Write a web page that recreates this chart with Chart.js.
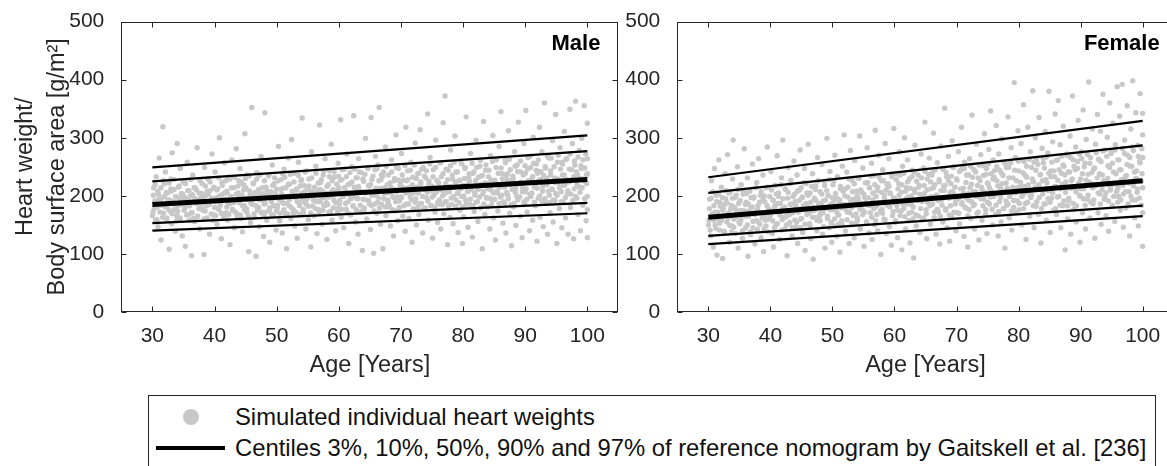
<!DOCTYPE html>
<html>
<head>
<meta charset="utf-8">
<script src="https://cdn.jsdelivr.net/npm/chart.js@4.4.1/dist/chart.umd.min.js"></script>
<style>
  body { margin: 0; background: #fff; width: 1167px; height: 466px; overflow: hidden; position: relative; font-family: "Liberation Sans", Arial, sans-serif; color: #262626; }
  canvas { position: absolute; top: 0; }
  #maleChart { left: 0; }
  #femaleChart { left: 600px; }
  .legend-box { position: absolute; left: 148px; top: 395px; width: 1008px; height: 100px; border: 1px solid #262626; box-sizing: border-box; }
  .legend-dot { position: absolute; left: 183px; top: 409px; width: 16px; height: 16px; border-radius: 50%; background: #c8c8c8; }
  .legend-line { position: absolute; left: 156px; top: 446px; width: 69px; height: 4px; background: #000; }
  .legend-text { position: absolute; left: 235px; font-size: 23.8px; line-height: 28px; white-space: nowrap; color: #111; }
</style>
</head>
<body>
<canvas id="maleChart" width="640" height="390"></canvas>
<canvas id="femaleChart" width="600" height="390"></canvas>
<div class="legend-box"></div>
<div class="legend-dot"></div>
<div class="legend-line"></div>
<div class="legend-text" style="top:403px">Simulated individual heart weights</div>
<div class="legend-text" style="top:434px">Centiles 3%, 10%, 50%, 90% and 97% of reference nomogram by Gaitskell et al. [236]</div>
<script>
const xTicks = [30, 40, 50, 60, 70, 80, 90, 100];
const centileAges = [30, 100];

// centile lines read at age 30 and age 100
const maleP3 = [140, 170];
const maleP10 = [153, 188];
const maleP50 = [185, 228];
const maleP90 = [225, 277];
const maleP97 = [249, 304];

const femaleP3 = [117, 165];
const femaleP10 = [131, 183];
const femaleP50 = [163, 226];
const femaleP90 = [205, 287];
const femaleP97 = [232, 329];

// simulated individuals [age, heart weight / BSA], whole spread
const malePoints = [
  [30.1,172],[30.2,214],[30.4,191],[30.5,158],[30.6,233],[30.8,181],[30.9,147],[31.0,203],[31.1,265],[31.3,188],[31.4,124],[31.5,196],[31.7,319],[31.8,170],[31.9,221],
  [32.0,184],[32.1,241],[32.3,162],[32.4,205],[32.6,177],[32.7,108],[32.8,193],[33.0,229],[33.1,152],[33.2,274],[33.4,186],[33.5,211],[33.7,139],[33.8,198],[33.9,166],
  [34.0,290],[34.1,182],[34.3,217],[34.4,160],[34.5,247],[34.7,191],[34.8,131],[34.9,203],[35.1,175],[35.2,226],[35.3,113],[35.5,194],[35.6,258],[35.8,168],[35.9,209],
  [36.0,183],[36.1,200],[36.3,97],[36.4,171],[36.5,236],[36.7,192],[36.8,156],[36.9,214],[37.1,187],[37.2,283],[37.3,165],[37.5,205],[37.6,143],[37.8,196],[37.9,178],
  [38.0,221],[38.1,188],[38.3,99],[38.4,249],[38.5,174],[38.7,201],[38.8,162],[38.9,230],[39.1,185],[39.2,134],[39.3,209],[39.5,193],[39.6,272],[39.8,168],[39.9,215],
  [40.0,180],[40.1,241],[40.3,197],[40.4,151],[40.5,212],[40.7,176],[40.8,300],[40.9,189],[41.1,126],[41.2,223],[41.3,203],[41.5,165],[41.6,257],[41.8,194],[41.9,171],
  [42.0,208],[42.1,158],[42.3,232],[42.4,186],[42.5,116],[42.7,199],[42.8,262],[42.9,177],[43.1,214],[43.2,145],[43.3,192],[43.5,281],[43.6,169],[43.8,205],[43.9,226],
  [44.0,188],[44.1,247],[44.3,161],[44.4,201],[44.5,138],[44.7,219],[44.8,183],[44.9,307],[45.1,196],[45.2,172],[45.3,236],[45.5,104],[45.6,209],[45.8,154],[45.9,191],
  [46.0,352],[46.1,185],[46.3,222],[46.4,163],[46.5,199],[46.7,96],[46.8,240],[46.9,178],[47.1,211],[47.2,147],[47.3,193],[47.5,268],[47.6,172],[47.8,204],[47.9,130],
  [48.0,186],[48.1,343],[48.3,215],[48.4,158],[48.5,201],[48.7,234],[48.8,175],[48.9,120],[49.1,207],[49.2,190],[49.3,253],[49.5,166],[49.6,221],[49.8,197],[49.9,141],
  [50.0,212],[50.1,179],[50.3,285],[50.4,194],[50.5,157],[50.7,228],[50.8,203],[50.9,136],[51.1,187],[51.2,246],[51.3,170],[51.5,214],[51.6,109],[51.8,199],[51.9,265],
  [52.0,183],[52.1,220],[52.3,161],[52.4,297],[52.5,205],[52.7,176],[52.8,239],[52.9,148],[53.1,196],[53.2,212],[53.3,127],[53.5,258],[53.6,188],[53.8,168],[53.9,226],
  [54.0,204],[54.1,334],[54.3,171],[54.4,218],[54.5,189],[54.7,143],[54.8,243],[54.9,195],[55.1,159],[55.2,229],[55.3,209],[55.5,112],[55.6,276],[55.8,182],[55.9,200],
  [56.0,166],[56.1,215],[56.3,251],[56.4,190],[56.5,135],[56.7,208],[56.8,176],[56.9,322],[57.1,223],[57.2,197],[57.3,151],[57.5,236],[57.6,183],[57.8,264],[57.9,205],
  [58.0,188],[58.1,125],[58.3,219],[58.4,172],[58.5,243],[58.7,201],[58.8,289],[58.9,158],[59.1,211],[59.2,193],[59.3,232],[59.5,140],[59.6,207],[59.8,178],[59.9,256],
  [60.0,214],[60.1,186],[60.3,331],[60.4,163],[60.5,228],[60.7,199],[60.8,145],[60.9,246],[61.1,208],[61.2,177],[61.3,272],[61.5,190],[61.6,118],[61.8,221],[61.9,167],
  [62.0,203],[62.1,250],[62.3,183],[62.4,338],[62.5,215],[62.7,155],[62.8,231],[62.9,196],[63.1,134],[63.2,264],[63.3,210],[63.5,172],[63.6,240],[63.8,106],[63.9,194],
  [64.0,225],[64.1,179],[64.3,299],[64.4,206],[64.5,160],[64.7,247],[64.8,192],[64.9,217],[65.1,142],[65.2,335],[65.3,201],[65.5,234],[65.6,101],[65.8,186],[65.9,268],
  [66.0,213],[66.1,170],[66.3,253],[66.4,197],[66.5,352],[66.7,151],[66.8,228],[66.9,185],[67.1,109],[67.2,241],[67.3,204],[67.5,284],[67.6,166],[67.8,219],[67.9,193],
  [68.0,236],[68.1,181],[68.3,148],[68.4,215],[68.5,262],[68.7,199],[68.8,131],[68.9,226],[69.1,174],[69.2,305],[69.3,208],[69.5,157],[69.6,247],[69.8,191],[69.9,220],
  [70.0,198],[70.1,273],[70.3,165],[70.4,227],[70.5,209],[70.7,139],[70.8,318],[70.9,186],[71.1,243],[71.2,214],[71.3,161],[71.5,199],[71.6,258],[71.8,120],[71.9,232],
  [72.0,176],[72.1,214],[72.3,291],[72.4,195],[72.5,150],[72.7,238],[72.8,205],[72.9,168],[73.1,314],[73.2,224],[73.3,187],[73.5,136],[73.6,249],[73.8,211],[73.9,179],
  [74.0,231],[74.1,197],[74.3,341],[74.4,158],[74.5,219],[74.7,266],[74.8,183],[74.9,209],[75.1,127],[75.2,245],[75.3,201],[75.5,172],[75.6,296],[75.8,226],[75.9,154],
  [76.0,212],[76.1,186],[76.3,257],[76.4,143],[76.5,233],[76.7,200],[76.8,326],[76.9,169],[77.1,372],[77.2,221],[77.3,190],[77.5,116],[77.6,244],[77.8,207],[77.9,163],
  [78.0,279],[78.1,196],[78.3,229],[78.4,152],[78.5,214],[78.7,303],[78.8,182],[78.9,241],[79.1,205],[79.2,137],[79.3,226],[79.5,175],[79.6,260],[79.8,199],[79.9,118],
  [80.0,218],[80.1,164],[80.3,247],[80.4,193],[80.5,336],[80.7,208],[80.8,146],[80.9,232],[81.1,185],[81.2,273],[81.3,211],[81.5,129],[81.6,239],[81.8,173],[81.9,201],
  [82.0,226],[82.1,296],[82.3,190],[82.4,156],[82.5,212],[82.7,251],[82.8,179],[82.9,234],[83.1,109],[83.2,203],[83.3,328],[83.5,168],[83.6,244],[83.8,197],[83.9,220],
  [84.0,181],[84.1,233],[84.3,143],[84.4,269],[84.5,210],[84.7,192],[84.8,304],[84.9,162],[85.1,227],[85.2,124],[85.3,249],[85.5,205],[85.6,174],[85.8,285],[85.9,215],
  [86.0,198],[86.1,345],[86.3,238],[86.4,153],[86.5,219],[86.7,187],[86.8,262],[86.9,136],[87.1,228],[87.2,201],[87.3,312],[87.5,170],[87.6,245],[87.8,114],[87.9,211],
  [88.0,234],[88.1,181],[88.3,276],[88.4,206],[88.5,149],[88.7,253],[88.8,193],[88.9,327],[89.1,222],[89.2,165],[89.3,241],[89.5,128],[89.6,214],[89.8,290],[89.9,187],
  [90.0,207],[90.1,347],[90.3,172],[90.4,246],[90.5,226],[90.7,140],[90.8,268],[90.9,199],[91.1,231],[91.2,158],[91.3,301],[91.5,215],[91.6,183],[91.8,255],[91.9,122],
  [92.0,239],[92.1,196],[92.3,318],[92.4,163],[92.5,228],[92.7,276],[92.8,208],[92.9,147],[93.1,360],[93.2,250],[93.3,188],[93.5,219],[93.6,134],[93.8,265],[93.9,201],
  [94.0,171],[94.1,243],[94.3,212],[94.4,295],[94.5,155],[94.7,231],[94.8,192],[94.9,340],[95.1,118],[95.2,258],[95.3,222],[95.5,178],[95.6,283],[95.8,207],[95.9,145],
  [96.0,236],[96.1,189],[96.3,311],[96.4,219],[96.5,162],[96.7,264],[96.8,203],[96.9,134],[97.1,246],[97.2,349],[97.3,180],[97.5,227],[97.6,290],[97.8,126],[97.9,212],
  [98.0,253],[98.1,363],[98.3,196],[98.4,237],[98.5,168],[98.7,278],[98.8,215],[98.9,140],[99.1,299],[99.2,229],[99.3,184],[99.5,355],[99.6,248],[99.8,157],[99.9,221],
  [100.0,264],[100.0,199],[100.0,238],[100.0,128],[100.0,325],[100.0,176]
];

// extra individuals inside the dense central band
const maleCore = [
  [30.03,166],[30.17,201],[30.29,178],[30.46,219],[30.58,190],[30.74,159],[30.88,208],
  [31.08,195],[31.21,172],[31.37,214],[31.49,184],[31.66,163],[31.79,226],[31.94,199],
  [32.12,181],[32.25,206],[32.33,160],[32.52,193],[32.69,222],[32.83,174],[32.97,212],
  [33.03,208],[33.17,169],[33.29,190],[33.46,228],[33.58,176],[33.74,199],[33.88,157],
  [34.08,173],[34.21,215],[34.37,196],[34.49,162],[34.66,204],[34.79,185],[34.94,224],
  [35.12,198],[35.25,180],[35.33,221],[35.52,167],[35.69,209],[35.83,191],[35.97,158],
  [36.03,186],[36.17,228],[36.29,171],[36.46,202],[36.58,161],[36.74,214],[36.88,195],
  [37.08,211],[37.21,164],[37.37,193],[37.49,178],[37.66,226],[37.79,187],[37.94,204],
  [38.12,175],[38.25,199],[38.33,160],[38.52,217],[38.69,183],[38.83,208],[38.97,229],
  [39.03,203],[39.17,186],[39.29,224],[39.46,169],[39.58,196],[39.74,158],[39.88,213],
  [40.08,190],[40.21,166],[40.37,210],[40.49,179],[40.66,231],[40.79,200],[40.94,184],
  [41.12,170],[41.25,218],[41.33,194],[41.52,162],[41.69,206],[41.83,226],[41.97,181],
  [42.03,205],[42.17,185],[42.29,168],[42.46,229],[42.58,196],[42.74,214],[42.88,175],
  [43.08,188],[43.21,232],[43.37,172],[43.49,203],[43.66,164],[43.79,217],[43.94,197],
  [44.12,167],[44.25,199],[44.33,223],[44.52,183],[44.69,210],[44.83,176],[44.97,230],
  [45.03,214],[45.17,178],[45.29,195],[45.46,165],[45.58,234],[45.74,202],[45.88,187],
  [46.08,193],[46.21,221],[46.37,169],[46.49,206],[46.66,183],[46.79,229],[46.94,175],
  [47.12,180],[47.25,203],[47.33,236],[47.52,171],[47.69,214],[47.83,192],[47.97,165],
  [48.03,226],[48.17,187],[48.29,172],[48.46,209],[48.58,197],[48.74,236],[48.88,179],
  [49.08,199],[49.21,168],[49.37,218],[49.49,183],[49.66,231],[49.79,205],[49.94,174],
  [50.12,184],[50.25,226],[50.33,195],[50.52,170],[50.69,211],[50.83,190],[50.97,238],
  [51.03,213],[51.17,176],[51.29,232],[51.46,199],[51.58,187],[51.74,169],[51.88,220],
  [52.08,193],[52.21,237],[52.37,180],[52.49,208],[52.66,171],[52.79,224],[52.94,201],
  [53.12,172],[53.25,210],[53.33,190],[53.52,235],[53.69,183],[53.83,217],[53.97,168],
  [54.03,228],[54.17,195],[54.29,176],[54.46,207],[54.58,241],[54.74,186],[54.88,215],
  [55.08,182],[55.21,217],[55.37,199],[55.49,170],[55.66,231],[55.79,208],[55.94,192],
  [56.12,204],[56.25,178],[56.33,239],[56.52,191],[56.69,222],[56.83,172],[56.97,211],
  [57.03,190],[57.17,228],[57.29,209],[57.46,175],[57.58,243],[57.74,197],[57.88,184],
  [58.08,216],[58.21,185],[58.37,198],[58.49,233],[58.66,173],[58.79,207],[58.94,226],
  [59.12,179],[59.25,241],[59.33,203],[59.52,188],[59.69,220],[59.83,172],[59.97,234],
  [60.03,208],[60.17,192],[60.29,227],[60.46,177],[60.58,245],[60.74,199],[60.88,214],
  [61.08,187],[61.21,233],[61.37,171],[61.49,219],[61.66,202],[61.79,240],[61.94,195],
  [62.12,224],[62.25,199],[62.33,182],[62.52,246],[62.69,211],[62.83,176],[62.97,231],
  [63.03,195],[63.17,216],[63.29,241],[63.46,184],[63.58,207],[63.74,174],[63.88,229],
  [64.08,176],[64.21,237],[64.37,205],[64.49,193],[64.66,248],[64.79,218],[64.94,186],
  [65.12,219],[65.25,183],[65.33,228],[65.52,202],[65.69,174],[65.83,245],[65.97,210],
  [66.03,200],[66.17,247],[66.29,189],[66.46,226],[66.58,179],[66.74,213],[66.88,236],
  [67.08,234],[67.21,195],[67.37,214],[67.49,181],[67.66,251],[67.79,205],[67.94,188],
  [68.12,184],[68.25,222],[68.33,206],[68.52,241],[68.69,176],[68.83,197],[68.97,230],
  [69.03,211],[69.17,190],[69.29,249],[69.46,198],[69.58,227],[69.74,180],[69.88,218],
  [70.08,197],[70.21,236],[70.37,214],[70.49,183],[70.66,252],[70.79,205],[70.94,226],
  [71.12,228],[71.25,186],[71.33,207],[71.52,244],[71.69,194],[71.83,219],[71.97,178],
  [72.03,205],[72.17,253],[72.29,189],[72.46,230],[72.58,215],[72.74,181],[72.88,239],
  [73.08,187],[73.21,221],[73.37,246],[73.49,199],[73.66,178],[73.79,234],[73.94,212],
  [74.12,243],[74.25,206],[74.33,191],[74.52,225],[74.69,255],[74.83,184],[74.97,217],
  [75.03,198],[75.17,233],[75.29,214],[75.46,180],[75.58,249],[75.74,207],[75.88,188],
  [76.08,222],[76.21,193],[76.37,257],[76.49,210],[76.66,185],[76.79,238],[76.94,203],
  [77.12,190],[77.25,246],[77.33,206],[77.52,228],[77.69,182],[77.83,216],[77.97,252],
  [78.03,214],[78.17,185],[78.29,236],[78.46,199],[78.58,258],[78.74,224],[78.88,193],
  [79.08,241],[79.21,204],[79.37,188],[79.49,227],[79.66,212],[79.79,255],[79.94,181],
  [80.12,200],[80.25,230],[80.33,249],[80.52,186],[80.69,219],[80.83,208],[80.97,238],
  [81.03,226],[81.17,194],[81.29,215],[81.46,256],[81.58,183],[81.74,241],[81.88,205],
  [82.08,189],[82.21,249],[82.37,211],[82.49,232],[82.66,198],[82.79,261],[82.94,220],
  [83.12,235],[83.25,207],[83.33,186],[83.52,222],[83.69,253],[83.83,196],[83.97,214],
  [84.03,212],[84.17,244],[84.29,196],[84.46,228],[84.58,184],[84.74,259],[84.88,205],
  [85.08,194],[85.21,223],[85.37,262],[85.49,208],[85.66,239],[85.79,187],[85.94,217],
  [86.12,248],[86.25,201],[86.33,229],[86.52,190],[86.69,215],[86.83,257],[86.97,236],
  [87.03,206],[87.17,238],[87.29,195],[87.46,263],[87.58,219],[87.74,185],[87.88,227],
  [88.08,229],[88.21,187],[88.37,251],[88.49,213],[88.66,199],[88.79,242],[88.94,221],
  [89.12,198],[89.25,260],[89.33,224],[89.52,207],[89.69,236],[89.83,190],[89.97,252],
  [90.03,239],[90.17,212],[90.29,194],[90.46,266],[90.58,226],[90.74,203],[90.88,249],
  [91.08,205],[91.21,233],[91.37,256],[91.49,189],[91.66,220],[91.79,244],[91.94,213],
  [92.12,262],[92.25,227],[92.33,200],[92.52,242],[92.69,191],[92.83,216],[92.97,235],
  [93.03,219],[93.17,195],[93.29,248],[93.46,230],[93.58,268],[93.74,208],[93.88,188],
  [94.08,236],[94.21,265],[94.37,211],[94.49,193],[94.66,250],[94.79,223],[94.94,204],
  [95.12,201],[95.25,229],[95.33,270],[95.52,214],[95.69,246],[95.83,190],[95.97,258],
  [96.03,255],[96.17,218],[96.29,236],[96.46,197],[96.58,263],[96.74,228],[96.88,209],
  [97.08,224],[97.21,272],[97.37,203],[97.49,245],[97.66,192],[97.79,233],[97.94,260],
  [98.12,199],[98.25,241],[98.33,219],[98.52,267],[98.69,230],[98.83,206],[98.97,252],
  [99.03,247],[99.17,214],[99.29,262],[99.46,226],[99.58,195],[99.74,272],[99.88,236]
];

const femalePoints = [
  [30.1,158],[30.2,194],[30.4,131],[30.5,226],[30.6,169],[30.8,112],[30.9,183],[31.0,247],[31.1,150],[31.3,201],[31.4,98],[31.5,172],[31.7,262],[31.8,141],[31.9,188],
  [32.0,163],[32.1,215],[32.3,92],[32.4,178],[32.6,138],[32.7,238],[32.8,195],[33.0,155],[33.1,271],[33.2,170],[33.4,120],[33.5,206],[33.7,184],[33.8,148],[33.9,229],
  [34.0,296],[34.1,160],[34.3,197],[34.4,135],[34.5,176],[34.7,250],[34.8,110],[34.9,187],[35.1,152],[35.3,219],[35.4,167],[35.5,127],[35.6,203],[35.8,281],[35.9,174],
  [36.0,145],[36.1,189],[36.3,231],[36.4,96],[36.5,165],[36.7,208],[36.8,133],[36.9,179],[37.1,255],[37.2,156],[37.3,196],[37.5,117],[37.6,172],[37.8,223],[37.9,142],
  [38.0,183],[38.1,264],[38.3,151],[38.4,201],[38.5,128],[38.7,170],[38.8,236],[38.9,104],[39.1,190],[39.2,158],[39.3,214],[39.5,284],[39.6,138],[39.8,177],[39.9,199],
  [40.0,166],[40.1,242],[40.3,135],[40.4,193],[40.5,112],[40.7,181],[40.8,218],[40.9,150],[41.1,269],[41.2,172],[41.3,205],[41.5,125],[41.6,187],[41.8,231],[41.9,159],
  [42.0,296],[42.1,178],[42.3,143],[42.4,212],[42.5,164],[42.7,97],[42.8,196],[42.9,249],[43.1,154],[43.2,185],[43.3,227],[43.5,131],[43.6,171],[43.8,260],[43.9,203],
  [44.0,190],[44.1,147],[44.3,236],[44.4,118],[44.5,174],[44.7,210],[44.8,279],[44.9,160],[45.1,198],[45.2,137],[45.3,183],[45.5,247],[45.6,106],[45.8,221],[45.9,168],
  [46.0,181],[46.1,289],[46.3,152],[46.4,205],[46.5,126],[46.7,174],[46.8,238],[46.9,91],[47.1,196],[47.2,163],[47.3,217],[47.5,140],[47.6,266],[47.8,187],[47.9,157],
  [48.0,207],[48.1,170],[48.3,254],[48.4,134],[48.5,191],[48.7,225],[48.8,110],[48.9,178],[49.1,299],[49.2,161],[49.3,201],[49.5,145],[49.6,242],[49.8,186],[49.9,120],
  [50.0,176],[50.1,219],[50.3,148],[50.4,270],[50.5,195],[50.7,130],[50.8,233],[50.9,167],[51.1,188],[51.2,103],[51.3,212],[51.5,157],[51.6,251],[51.8,182],[51.9,305],
  [52.0,200],[52.1,139],[52.3,241],[52.4,172],[52.5,215],[52.7,118],[52.8,186],[52.9,278],[53.1,153],[53.2,226],[53.3,194],[53.5,128],[53.6,261],[53.8,169],[53.9,208],
  [54.0,162],[54.1,231],[54.3,190],[54.4,303],[54.5,143],[54.7,206],[54.8,176],[54.9,248],[55.1,113],[55.2,197],[55.3,222],[55.5,155],[55.6,283],[55.8,184],[55.9,136],
  [56.0,214],[56.1,171],[56.3,256],[56.4,125],[56.5,193],[56.7,235],[56.8,150],[56.9,313],[57.1,182],[57.2,209],[57.3,140],[57.5,270],[57.6,188],[57.8,99],[57.9,226],
  [58.0,177],[58.1,245],[58.3,160],[58.4,201],[58.5,290],[58.7,135],[58.8,219],[58.9,188],[59.1,264],[59.2,147],[59.3,205],[59.5,115],[59.6,233],[59.8,173],[59.9,316],
  [60.0,195],[60.1,154],[60.3,238],[60.4,183],[60.5,128],[60.7,221],[60.8,276],[60.9,166],[61.1,206],[61.2,107],[61.3,251],[61.5,178],[61.6,300],[61.8,143],[61.9,214],
  [62.0,186],[62.1,262],[62.3,157],[62.4,229],[62.5,119],[62.7,200],[62.8,172],[62.9,244],[63.1,93],[63.2,211],[63.3,287],[63.5,148],[63.6,193],[63.8,236],[63.9,165],
  [64.0,218],[64.1,137],[64.3,272],[64.4,190],[64.5,159],[64.7,248],[64.8,204],[64.9,327],[65.1,176],[65.2,126],[65.3,229],[65.5,197],[65.6,265],[65.8,151],[65.9,212],
  [66.0,185],[66.1,240],[66.3,308],[66.4,163],[66.5,219],[66.7,134],[66.8,201],[66.9,257],[67.1,172],[67.2,224],[67.3,117],[67.5,286],[67.6,193],[67.8,155],[67.9,246],
  [68.0,209],[68.1,351],[68.3,178],[68.4,233],[68.5,145],[68.7,268],[68.8,196],[68.9,122],[69.1,221],[69.2,164],[69.3,295],[69.5,205],[69.6,250],[69.8,186],[69.9,140],
  [70.0,229],[70.1,171],[70.3,276],[70.4,197],[70.5,152],[70.7,244],[70.8,318],[70.9,188],[71.1,213],[71.2,130],[71.3,258],[71.5,179],[71.6,236],[71.8,112],[71.9,204],
  [72.0,192],[72.1,264],[72.3,161],[72.4,220],[72.5,339],[72.7,183],[72.8,245],[72.9,143],[73.1,207],[73.2,289],[73.3,170],[73.5,231],[73.6,124],[73.8,198],[73.9,271],
  [74.0,215],[74.1,158],[74.3,252],[74.4,194],[74.5,307],[74.7,176],[74.8,237],[74.9,135],[75.1,221],[75.2,280],[75.3,186],[75.5,346],[75.6,209],[75.8,150],[75.9,262],
  [76.0,199],[76.1,243],[76.3,168],[76.4,321],[76.5,226],[76.7,131],[76.8,272],[76.9,190],[77.1,213],[77.2,155],[77.3,298],[77.5,235],[77.6,178],[77.8,110],[77.9,255],
  [78.0,222],[78.1,184],[78.3,336],[78.4,249],[78.5,162],[78.7,204],[78.8,283],[78.9,141],[79.1,231],[79.2,192],[79.3,395],[79.5,266],[79.6,172],[79.8,214],[79.9,312],
  [80.0,243],[80.1,176],[80.3,216],[80.4,290],[80.5,150],[80.7,201],[80.8,357],[80.9,259],[81.1,187],[81.2,125],[81.3,232],[81.5,318],[81.6,209],[81.8,165],[81.9,276],
  [82.0,197],[82.1,249],[82.3,381],[82.4,224],[82.5,145],[82.7,300],[82.8,182],[82.9,262],[83.1,212],[83.2,168],[83.3,335],[83.5,236],[83.6,119],[83.8,282],[83.9,203],
  [84.0,257],[84.1,186],[84.3,311],[84.4,228],[84.5,158],[84.7,274],[84.8,209],[84.9,380],[85.1,137],[85.2,243],[85.3,196],[85.5,293],[85.6,175],[85.8,233],[85.9,341],
  [86.0,216],[86.1,168],[86.3,262],[86.4,364],[86.5,199],[86.7,288],[86.8,145],[86.9,239],[87.1,183],[87.2,320],[87.3,251],[87.5,107],[87.6,224],[87.8,272],[87.9,160],
  [88.0,241],[88.1,192],[88.3,303],[88.4,134],[88.5,226],[88.7,372],[88.8,262],[88.9,177],[89.1,213],[89.2,284],[89.3,155],[89.5,247],[89.6,330],[89.8,201],[89.9,120],
  [90.0,229],[90.1,276],[90.3,171],[90.4,348],[90.5,212],[90.7,256],[90.8,143],[90.9,297],[91.1,194],[91.2,237],[91.3,396],[91.5,162],[91.6,266],[91.8,220],[91.9,315],
  [92.0,186],[92.1,246],[92.3,127],[92.4,289],[92.5,218],[92.7,340],[92.8,171],[92.9,263],[93.1,203],[93.2,311],[93.3,151],[93.5,236],[93.6,375],[93.8,194],[93.9,279],
  [94.0,225],[94.1,166],[94.3,301],[94.4,252],[94.5,139],[94.7,360],[94.8,210],[94.9,273],[95.1,184],[95.2,325],[95.3,241],[95.5,156],[95.6,288],[95.8,207],[95.9,388],
  [96.0,262],[96.1,199],[96.3,337],[96.4,175],[96.5,245],[96.7,392],[96.8,218],[96.9,146],[97.1,296],[97.2,233],[97.3,179],[97.5,355],[97.6,270],[97.8,207],[97.9,131],
  [98.0,251],[98.1,315],[98.3,193],[98.4,398],[98.5,278],[98.7,162],[98.8,229],[98.9,343],[99.1,206],[99.2,287],[99.3,148],[99.5,259],[99.6,376],[99.8,184],[99.9,238],
  [100.0,305],[100.0,214],[100.0,113],[100.0,266],[100.0,171],[100.0,342]
];

const femaleCore = [
  [30.03,150],[30.17,178],[30.29,141],[30.46,196],[30.58,165],[30.74,207],[30.88,158],
  [31.08,172],[31.21,144],[31.37,190],[31.49,161],[31.66,203],[31.79,153],[31.94,182],
  [32.12,158],[32.25,197],[32.33,175],[32.52,139],[32.69,186],[32.83,209],[32.97,166],
  [33.03,188],[33.17,162],[33.29,205],[33.46,149],[33.58,177],[33.74,138],[33.88,196],
  [34.08,146],[34.21,180],[34.37,163],[34.49,201],[34.66,171],[34.79,211],[34.94,155],
  [35.12,192],[35.25,159],[35.33,175],[35.52,140],[35.69,208],[35.83,168],[35.97,185],
  [36.03,165],[36.17,204],[36.29,150],[36.46,186],[36.58,173],[36.74,138],[36.88,197],
  [37.08,181],[37.21,145],[37.37,198],[37.49,168],[37.66,214],[37.79,157],[37.94,176],
  [38.12,154],[38.25,189],[38.33,171],[38.52,207],[38.69,162],[38.83,194],[38.97,143],
  [39.03,200],[39.17,166],[39.29,148],[39.46,183],[39.58,215],[39.74,176],[39.88,160],
  [40.08,174],[40.21,210],[40.37,157],[40.49,192],[40.66,145],[40.79,184],[40.94,203],
  [41.12,152],[41.25,187],[41.33,199],[41.52,167],[41.69,219],[41.83,141],[41.97,178],
  [42.03,195],[42.17,163],[42.29,181],[42.46,211],[42.58,150],[42.74,172],[42.88,206],
  [43.08,168],[43.21,221],[43.37,186],[43.49,146],[43.66,199],[43.79,176],[43.94,158],
  [44.12,183],[44.25,155],[44.33,208],[44.52,172],[44.69,192],[44.83,145],[44.97,214],
  [45.03,161],[45.17,197],[45.29,176],[45.46,223],[45.58,151],[45.74,187],[45.88,205],
  [46.08,201],[46.21,170],[46.37,149],[46.49,189],[46.66,216],[46.79,163],[46.94,180],
  [47.12,175],[47.25,211],[47.33,192],[47.52,158],[47.69,226],[47.83,184],[47.97,166],
  [48.03,157],[48.17,186],[48.29,203],[48.46,171],[48.58,147],[48.74,218],[48.88,193],
  [49.08,209],[49.21,165],[49.37,182],[49.49,228],[49.66,176],[49.79,154],[49.94,197],
  [50.12,188],[50.25,226],[50.33,160],[50.52,204],[50.69,173],[50.83,195],[50.97,151],
  [51.03,167],[51.17,193],[51.29,216],[51.46,179],[51.58,150],[51.74,208],[51.88,185],
  [52.08,212],[52.21,176],[52.37,159],[52.49,198],[52.66,229],[52.79,171],[52.94,190],
  [53.12,180],[53.25,207],[53.33,166],[53.52,221],[53.69,192],[53.83,153],[53.97,200],
  [54.03,158],[54.17,196],[54.29,230],[54.46,177],[54.58,210],[54.74,186],[54.88,168],
  [55.08,203],[55.21,172],[55.37,188],[55.49,155],[55.66,223],[55.79,197],[55.94,214],
  [56.12,183],[56.25,234],[56.33,163],[56.52,205],[56.69,178],[56.83,219],[56.97,157],
  [57.03,199],[57.17,168],[57.29,215],[57.46,187],[57.58,231],[57.74,174],[57.88,206],
  [58.08,170],[58.21,226],[58.37,195],[58.49,159],[58.66,210],[58.79,184],[58.94,221],
  [59.12,216],[59.25,181],[59.33,204],[59.52,237],[59.69,166],[59.83,197],[59.97,188],
  [60.03,193],[60.17,157],[60.29,228],[60.46,175],[60.58,212],[60.74,201],[60.88,236],
  [61.08,174],[61.21,219],[61.37,186],[61.49,239],[61.66,164],[61.79,208],[61.94,196],
  [62.12,224],[62.25,198],[62.33,170],[62.52,213],[62.69,185],[62.83,233],[62.97,160],
  [63.03,181],[63.17,241],[63.29,206],[63.46,167],[63.58,225],[63.74,192],[63.88,215],
  [64.08,203],[64.21,178],[64.37,231],[64.49,195],[64.66,162],[64.79,218],[64.94,242],
  [65.12,169],[65.25,210],[65.33,189],[65.52,237],[65.69,183],[65.83,224],[65.97,199],
  [66.03,236],[66.17,186],[66.29,214],[66.46,172],[66.58,245],[66.74,201],[66.88,177],
  [67.08,192],[67.21,228],[67.37,165],[67.49,209],[67.66,184],[67.79,246],[67.94,217],
  [68.12,218],[68.25,175],[68.33,240],[68.52,198],[68.69,226],[68.83,167],[68.97,206],
  [69.03,183],[69.17,234],[69.29,207],[69.46,249],[69.58,172],[69.74,215],[69.88,191],
  [70.08,227],[70.21,195],[70.37,170],[70.49,242],[70.66,212],[70.79,186],[70.94,250],
  [71.12,204],[71.25,247],[71.33,181],[71.52,223],[71.69,196],[71.83,166],[71.97,236],
  [72.03,176],[72.17,214],[72.29,251],[72.46,190],[72.58,232],[72.74,207],[72.88,185],
  [73.08,241],[73.21,199],[73.37,218],[73.49,172],[73.66,253],[73.79,226],[73.94,195],
  [74.12,211],[74.25,183],[74.33,235],[74.52,206],[74.69,168],[74.83,247],[74.97,222],
  [75.03,189],[75.17,255],[75.29,214],[75.46,198],[75.58,238],[75.74,177],[75.88,229],
  [76.08,232],[76.21,203],[76.37,184],[76.49,250],[76.66,217],[76.79,173],[76.94,244],
  [77.12,197],[77.25,239],[77.33,221],[77.52,178],[77.69,258],[77.83,208],[77.97,191],
  [78.03,249],[78.17,213],[78.29,186],[78.46,231],[78.58,199],[78.74,257],[78.88,174],
  [79.08,215],[79.21,180],[79.37,244],[79.49,205],[79.66,226],[79.79,191],[79.94,260],
  [80.12,187],[80.25,262],[80.33,223],[80.52,199],[80.69,240],[80.83,178],[80.97,216],
  [81.03,236],[81.17,206],[81.29,251],[81.46,189],[81.58,219],[81.74,263],[81.88,200],
  [82.08,201],[82.21,229],[82.37,183],[82.49,258],[82.66,214],[82.79,244],[82.94,190],
  [83.12,254],[83.25,219],[83.33,197],[83.52,237],[83.69,178],[83.83,226],[83.97,265],
  [84.03,210],[84.17,248],[84.29,186],[84.46,267],[84.58,222],[84.74,195],[84.88,239],
  [85.08,189],[85.21,233],[85.37,258],[85.49,205],[85.66,243],[85.79,216],[85.94,178],
  [86.12,261],[86.25,198],[86.33,227],[86.52,245],[86.69,184],[86.83,212],[86.97,268],
  [87.03,220],[87.17,253],[87.29,191],[87.46,236],[87.58,206],[87.74,270],[87.88,183],
  [88.08,196],[88.21,241],[88.37,266],[88.49,213],[88.66,229],[88.79,187],[88.94,251],
  [89.12,245],[89.25,207],[89.33,183],[89.52,259],[89.69,222],[89.83,272],[89.97,199],
  [90.03,212],[90.17,264],[90.29,238],[90.46,195],[90.58,250],[90.74,184],[90.88,227],
  [91.08,271],[91.21,201],[91.37,224],[91.49,256],[91.66,189],[91.79,240],[91.94,214],
  [92.12,193],[92.25,248],[92.33,217],[92.52,274],[92.69,231],[92.83,205],[92.97,262],
  [93.03,238],[93.17,186],[93.29,259],[93.46,211],[93.58,277],[93.74,226],[93.88,198],
  [94.08,205],[94.21,268],[94.37,230],[94.49,191],[94.66,249],[94.79,216],[94.94,276],
  [95.12,256],[95.25,221],[95.33,199],[95.52,279],[95.69,238],[95.83,208],[95.97,189],
  [96.03,214],[96.17,262],[96.29,245],[96.46,193],[96.58,228],[96.74,281],[96.88,203],
  [97.08,273],[97.21,207],[97.37,235],[97.49,254],[97.66,186],[97.79,222],[97.94,266],
  [98.12,199],[98.25,251],[98.33,284],[98.52,217],[98.69,241],[98.83,193],[98.97,230],
  [99.03,243],[99.17,212],[99.29,268],[99.46,196],[99.58,257],[99.74,225],[99.88,281]
];

const TEXT = '#262626';
const FONT = '"Liberation Sans", Arial, sans-serif';

const centileLine = (vals, width) => ({
  data: centileAges.map((x, i) => ({ x, y: vals[i] })),
  showLine: true,
  borderColor: '#000',
  borderWidth: width,
  pointRadius: 0,
  order: 0,
});

// MATLAB style box with inward ticks + bold panel label
const boxPlugin = {
  id: 'box',
  afterDatasetsDraw(chart, args, opts) {
    const { ctx, chartArea: a, scales: { x, y } } = chart;
    const L = Math.round(a.left) + 0.5, R = Math.round(a.right) - 0.5;
    const T = Math.round(a.top) + 0.5, B = Math.round(a.bottom) - 0.5;
    ctx.save();
    ctx.strokeStyle = TEXT;
    ctx.lineWidth = 1;
    ctx.strokeRect(L, T, R - L, B - T);
    ctx.beginPath();
    xTicks.forEach(v => {
      const px = Math.round(x.getPixelForValue(v)) + 0.5;
      ctx.moveTo(px, B); ctx.lineTo(px, B - 5);
      ctx.moveTo(px, T); ctx.lineTo(px, T + 5);
    });
    y.ticks.forEach(t => {
      const py = Math.round(y.getPixelForValue(t.value)) + 0.5;
      ctx.moveTo(L, py); ctx.lineTo(L + 5, py);
      ctx.moveTo(R, py); ctx.lineTo(R - 5, py);
    });
    ctx.stroke();
    ctx.fillStyle = '#000';
    ctx.font = 'bold 22px ' + FONT;
    ctx.textAlign = 'right';
    ctx.textBaseline = 'middle';
    ctx.fillText(opts.label, a.right - opts.labelGap, a.top + 22);
    ctx.restore();
  },
};

function makeChart(id, points, cents, o) {
  return new Chart(document.getElementById(id), {
    type: 'scatter',
    data: {
      datasets: [
        ...cents.map((c, i) => centileLine(c, i === 2 ? 5 : 2.2)),
        {
          data: points.map(p => ({ x: p[0], y: p[1] })),
          backgroundColor: '#c8c8c8',
          borderWidth: 0,
          pointRadius: 2.7,
          order: 1,
        },
      ],
    },
    options: {
      responsive: false,
      animation: false,
      devicePixelRatio: 1,
      layout: { padding: { top: 16, right: o.padRight, left: 0, bottom: 0 } },
      plugins: {
        legend: { display: false },
        tooltip: { enabled: false },
        box: { label: o.label, labelGap: o.labelGap },
      },
      scales: {
        x: {
          min: 25, max: 105,
          grid: { display: false },
          border: { display: false },
          afterBuildTicks: s => { s.ticks = xTicks.map(v => ({ value: v })); },
          afterFit: s => { s.height = 390 - 312; },
          ticks: { color: TEXT, font: { size: 21, family: FONT }, padding: 4, maxRotation: 0 },
          title: { display: true, text: 'Age [Years]', color: TEXT, font: { size: 23.5, family: FONT }, padding: { top: 0, bottom: 10 } },
        },
        y: {
          min: 0, max: 500,
          grid: { display: false },
          border: { display: false },
          afterFit: s => { s.width = o.yWidth; },
          ticks: { stepSize: 100, color: TEXT, font: { size: 21, family: FONT }, padding: 9 },
          title: {
            display: !!o.yTitle,
            text: o.yTitle,
            color: TEXT,
            font: { size: 23.5, family: FONT, lineHeight: 1.39 },
            padding: { top: 8.7, bottom: 0 },
          },
        },
      },
    },
    plugins: [boxPlugin],
  });
}

makeChart('maleChart', malePoints.concat(maleCore), [maleP3, maleP10, maleP50, maleP90, maleP97], {
  label: 'Male', labelGap: 18, padRight: 21.6, yWidth: 121.3,
  yTitle: ['Heart weight/', 'Body surface area [g/m²]'],
});

makeChart('femaleChart', femalePoints.concat(femaleCore), [femaleP3, femaleP10, femaleP50, femaleP90, femaleP97], {
  label: 'Female', labelGap: 14, padRight: 26.3, yWidth: 77.3,
});
</script>
</body>
</html>
